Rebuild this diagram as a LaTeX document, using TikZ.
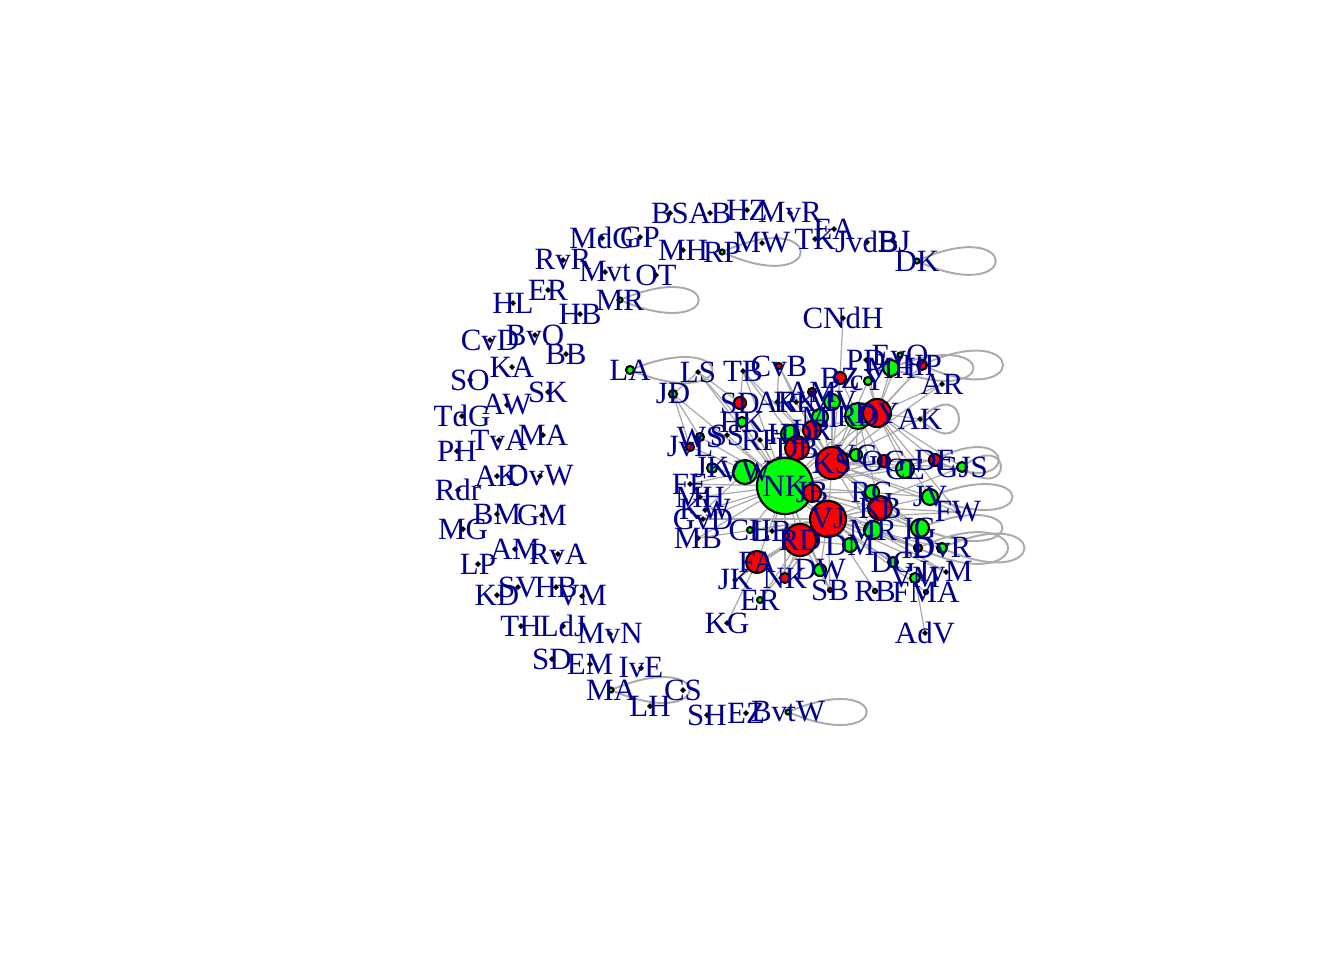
\documentclass[tikz,border=0pt]{standalone}
\usepackage{fontspec}
\setmainfont{Liberation Serif}
\definecolor{lblblue}{RGB}{0,0,139}
\definecolor{edgegray}{RGB}{170,170,170}

% name/x/y/radius/fill/label  (pixel coordinates)
\def\vlist{BS/670/213/1.5/black/BS,AB/710/213/1.5/black/AB,HZ/747/210/1.5/black/HZ,MvR/790/213/1.5/black/MvR,
EA/834/229/1.5/black/EA,TK/815/239/1.5/black/TK,JvdB/867/242/1.5/black/JvdB,BJ/894/242/1.5/black/BJ,
DK/917/261/2.5/green/DK,MW/762/243/1.5/black/MW,RP/722/252/2.5/green/RP,MHa/683/250/1.5/black/MH,
GP/640/237/1.5/black/GP,MdG/602/238/1.5/black/MdG,RvR/563/260/1.5/black/RvR,Mvt/605/272/1.5/black/Mvt,
OT/656/275/1.5/black/OT,ERa/548/290/1.5/black/ER,HLa/513/303/1.5/black/HL,HBa/580/314/1.5/black/HB,
MRa/620/300/2.5/green/MR,CvD/490/340/1.5/black/CvD,BvO/535/335/1.5/black/BvO,BB/566/354/1.5/black/BB,
KA/512/367/1.5/black/KA,SO/470/380/1.5/black/SO,SK/548/392/1.5/black/SK,AW/507/405/1.5/black/AW,
TdG/462/416/1.5/black/TdG,TvA/499/440/1.5/black/TvA,MAa/543/435/1.5/black/MA,PH/457/451/1.5/black/PH,
AKa/497/476/1.5/black/AK,DvW/540/476/1.5/black/DvW,Rdr/458/490/1.5/black/Rdr,BM/497/514/1.5/black/BM,
GM/542/515/1.5/black/GM,MG/463/529/1.5/black/MG,AM/515/549/1.5/black/AM,RvA/558/554/1.5/black/RvA,
LP/478/564/1.5/black/LP,KD/497/595/1.5/black/KD,SV/518/587/1.5/black/SV,HBb/556/587/1.5/black/HB,
VM/582/596/1.5/black/VM,TH/521/626/1.5/black/TH,LdJ/563/626/1.5/black/LdJ,MvN/610/634/1.5/black/MvN,
SD/552/659/1.5/black/SD,EM/590/664/1.5/black/EM,IvE/641/668/1.5/black/IvE,MAb/611/690/2.5/green/MA,
LH/650/706/1.5/black/LH,CS/683/690/1.5/black/CS,SH/707/715/1.5/black/SH,EZ/746/713/1.5/black/EZ,
BvtW/788/712/2.5/green/BvtW,LA/630/370/4/green/LA,
CNdH/843/318/1.5/black/CNdH,PD/866/360/1.5/black/PD,EvO/900/355/2.5/green/EvO,MHc/891/368/8/green/MH,
HP/922/365/5/red/HP,ARb/942/384/1.5/black/AR,BZ/840/378/6/red/BZ,cY/868/381/4/green/cY,
RDa/858/416/13/green/RD,DY/877/413/14/red/DY,AKb/920/419/1.5/black/AK,LS/698/372/1.5/black/LS,
TB/743/371/1.5/black/TB,CvB/779/366/3/red/CvB,JD/673/394/4/green/JD,SDb/740/403/6/red/SD,
ARc/777/402/1.5/black/AR,KK/796/402/1.5/black/KK,AMb/812/392/4/red/AM,MV/832/402/8/green/MV,
MI/820/417/8/green/MI,LR/812/430/9/red/LR,HK/742/422/5/green/HK,WS/700/437/4/green/WS,
JvL/690/447/4/red/JvL,SS/727/435/1.5/black/SS,RF/760/440/1.5/black/RF,HD/790/434/9/green/HD,
DB/797/448/12/red/DB,JKa/712/468/5/green/JK,VW/745/472/12/green/VW,NK/785/486/28/green/NK,
KS/832/463/16/red/KS,JB/812/493/9/red/JB,VJ/828/519/18/red/VJ,RDb/800/540/16/red/RD,
FA/757/562/11/red/FA,FE/690/484/1.5/black/FE,MHb/700/497/1.5/black/MH,KW/705/510/1.5/black/KW,
GvD/703/519/1.5/black/GvD,MB/698/538/1.5/black/MB,CH/750/530/3/green/CH,LB/772/531/1.5/black/LB,
JKb/735/580/1.5/black/JK,ERb/760/600/3/green/ER,KG/727/623/1.5/black/KG,NKb/785/578/5/red/NK,
DW/820/570/6/green/DW,SB/830/590/2/red/SB,RB/875/591/2/green/RB,FMA/926/592/2/red/FMA,
IvM/946/572/1.5/black/IvM,DvR/942/548/5/green/DvR,ID/918/548/4/red/ID,DM/850/545/7/green/DM,
MRb/873/530/9/green/MR,IG/920/528/9/green/IG,FW/958/512/1.5/black/FW,KB/880/508/12/red/KB,
JV/930/497/8/green/JV,CE/905/469/9/green/CE,GJS/962/467/5/green/GJS,DE/935/460/6/red/DE,
OG/884/461/6/red/OG,VG/856/455/6/green/VG,RG/872/492/7/green/RG,DG/893/562/5/green/DG,
FM/915/578/5/green/VM,AdV/925/633/1.5/black/AdV}

\begin{document}
\begin{tikzpicture}[x={(0.01cm,0)}, y={(0,-0.01cm)},
    edge/.style={draw=edgegray, line width=0.35pt},
    loopedge/.style={draw=edgegray, line width=0.55pt},
    vtx/.style={circle, draw=black, line width=0.6pt, inner sep=0pt},
    lbl/.style={text=lblblue, inner sep=0pt, font=\fontsize{8.8}{10}\selectfont}]
    \useasboundingbox (0,0) rectangle (1344,960);

    \foreach \nm/\px/\py/\rad/\col/\lab in \vlist
        \coordinate (\nm) at (\px,\py);

    % edges
    \foreach \a/\b in {NK/VW,NK/KS,NK/VJ,NK/JB,NK/RDb,NK/FA,NK/DB,NK/HD,NK/MV,NK/DY,NK/RDa,NK/JKa,
        NK/CH,NK/LB,NK/MB,NK/GvD,NK/KW,NK/FE,NK/JD,NK/LS,NK/TB,NK/SS,NK/RF,NK/HK,NK/SDb,NK/KB,
        NK/MRb,NK/DM,NK/OG,NK/CE,NK/IG,NK/NKb,NK/DW,NK/JvL,NK/WS,NK/MHb,NK/JV,NK/DE,NK/ID,NK/SB,
        KS/DY,KS/RDa,KS/VJ,KS/VG,KS/OG,KS/CE,KS/DE,KS/GJS,KS/JV,KS/KB,KS/MRb,KS/IG,KS/RG,KS/BZ,
        KS/cY,KS/MV,KS/MI,KS/LR,KS/CvB,KS/TB,KS/ARb,KS/AKb,KS/HP,KS/KK,KS/ARc,KS/FW,KS/DvR,
        VJ/RDb,VJ/FA,VJ/DM,VJ/ID,VJ/DvR,VJ/IvM,VJ/FMA,VJ/RB,VJ/SB,VJ/DW,VJ/FM,VJ/DG,VJ/FW,VJ/KB,
        VJ/IG,VJ/JKb,VJ/ERb,VJ/NKb,VJ/CH,VJ/LB,VJ/MB,VJ/GvD,VJ/JV,VJ/GJS,
        DY/PD,DY/EvO,DY/MHc,DY/HP,DY/ARb,DY/AKb,DY/cY,DY/RDa,DY/MV,DY/CE,DY/GJS,DY/FW,DY/JV,DY/DE,
        CNdH/BZ,BZ/RDa,RDb/FA,FA/KG,FA/JKb,RDb/ERb,RDb/NKb,RDb/DM,RDb/SB,FM/AdV,
        JD/LS,JD/WS,JD/JvL,LS/SDb,TB/SDb,TB/HD,CvB/ARc,CvB/KK,LS/HK,
        KB/FW,KB/IG,KB/DvR,MRb/ID,MRb/IvM,DB/LR,DB/VW,JB/KB,JB/RG,DB/MI,LR/DY,VW/FE,VW/KW,
        RDa/OG,RDa/VG,RDa/KB,MV/RDa,HD/KS,DB/KS}
        \draw[edge] (\a) -- (\b);

    % self loops
    \foreach \nm/\w/\h in {DK/105/48,RP/105/48,MRa/105/45,LA/110/45,MAb/105/45,BvtW/105/45,
        HP/108/50,MHc/110/45,AKb/52/50,GJS/52/40,DE/85/45,JV/110/45,IG/110/45,DvR/110/50,ID/120/55}
        \draw[loopedge] (\nm) .. controls +(\w,-\h) and +(\w,\h) .. (\nm);

    % vertices, then labels
    \foreach \nm/\px/\py/\rad/\col/\lab in \vlist
        \node[vtx, fill=\col, minimum size=\rad*0.02cm] (\nm-v) at (\nm) {};
    \foreach \nm/\px/\py/\rad/\col/\lab in \vlist
        \node[lbl] (\nm-l) at (\nm) {\lab};
\end{tikzpicture}
\end{document}
